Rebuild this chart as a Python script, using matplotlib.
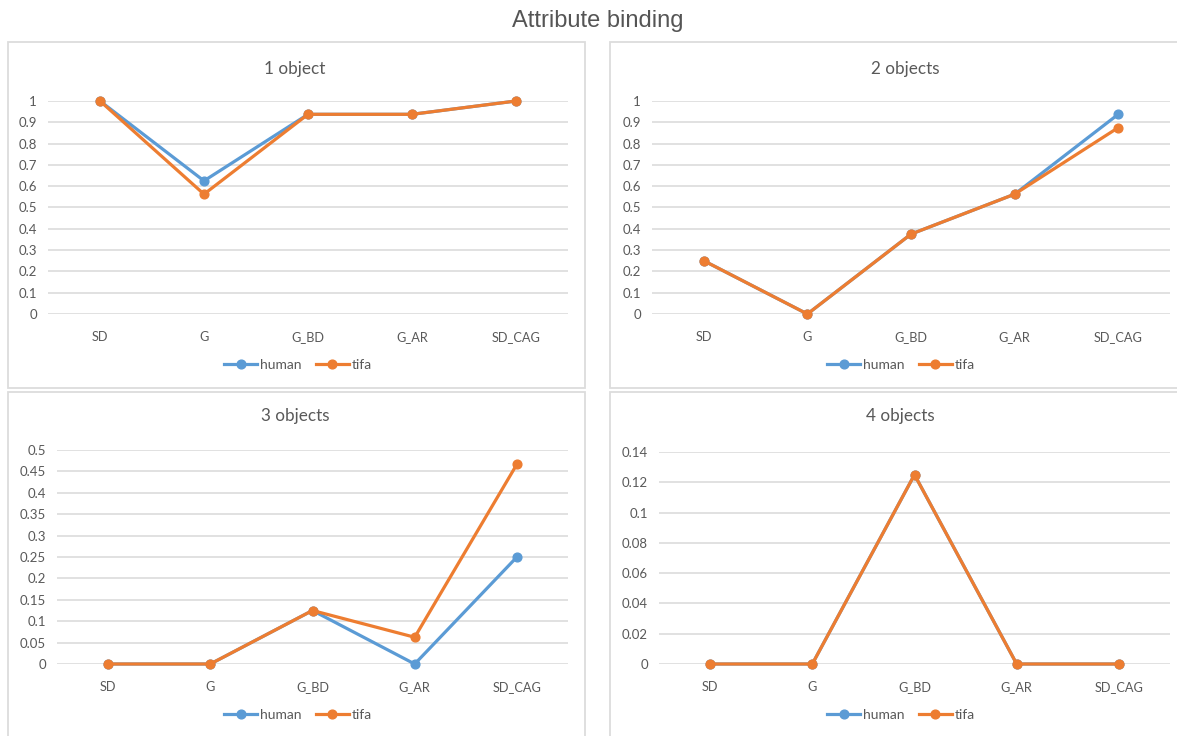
import matplotlib
matplotlib.use("Agg")
import matplotlib.pyplot as plt
from matplotlib.patches import Rectangle
import numpy as np

categories = ["SD", "G", "G_BD", "G_AR", "SD_CAG"]
panel_titles = ["1 object", "2 objects", "3 objects", "4 objects"]
human_1 = [1.0, 0.625, 0.9375, 0.9375, 1.0]
tifa_1 = [1.0, 0.5625, 0.9375, 0.9375, 1.0]
human_2 = [0.25, 0.0, 0.375, 0.5625, 0.9375]
tifa_2 = [0.25, 0.0, 0.375, 0.5625, 0.875]
human_3 = [0.0, 0.0, 0.125, 0.0, 0.25]
tifa_3 = [0.0, 0.0, 0.125, 0.0625, 0.4667]
human_4 = [0.0, 0.0, 0.125, 0.0, 0.0]
tifa_4 = [0.0, 0.0, 0.125, 0.0, 0.0]
yticks_1 = [0, 0.1, 0.2, 0.3, 0.4, 0.5, 0.6, 0.7, 0.8, 0.9, 1]
yticks_2 = [0, 0.1, 0.2, 0.3, 0.4, 0.5, 0.6, 0.7, 0.8, 0.9, 1]
yticks_3 = [0, 0.05, 0.1, 0.15, 0.2, 0.25, 0.3, 0.35, 0.4, 0.45, 0.5]
yticks_4 = [0, 0.02, 0.04, 0.06, 0.08, 0.1, 0.12, 0.14]

W, H = 1177, 736
fig = plt.figure(figsize=(W / 100, H / 100), dpi=100)
fig.patch.set_facecolor("white")

C_HUMAN = "#5B9BD5"
C_TIFA = "#ED7D31"
TXT = "#595959"
GRID = "#d9d9d9"
FONT = ["Lato", "DejaVu Sans"]


def rect(x0, y0, x1, y1):
    return [x0 / W, 1 - y1 / H, (x1 - x0) / W, (y1 - y0) / H]


# panel borders
borders = [(8, 42, 585, 388), (610, 42, 1190, 388), (8, 392, 585, 745), (610, 392, 1190, 745)]
for (x0, y0, x1, y1) in borders:
    fig.add_artist(Rectangle((x0 / W, 1 - y1 / H), (x1 - x0) / W, (y1 - y0) / H,
                             transform=fig.transFigure, facecolor="white",
                             edgecolor="#dcdcdc", lw=1.3, zorder=0))

panels = [
    (human_1, tifa_1, yticks_1, (48, 101, 568, 314), 295, 69, 298, 365),
    (human_2, tifa_2, yticks_2, (652, 101, 1170, 314), 905, 69, 901, 365),
    (human_3, tifa_3, yticks_3, (57, 450, 568, 664), 295, 416, 298, 715),
    (human_4, tifa_4, yticks_4, (659, 452, 1170, 664), 900, 416, 901, 715),
]

for i, (hum, tif, yt, box, tx, ty, lx, ly) in enumerate(panels):
    ax = fig.add_axes(rect(*box))
    ax.set_facecolor("none")
    x = np.arange(len(categories))
    ax.plot(x, hum, color=C_HUMAN, lw=2.3, marker="o", ms=6.3, label="human", clip_on=False, zorder=3)
    ax.plot(x, tif, color=C_TIFA, lw=2.3, marker="o", ms=6.3, label="tifa", clip_on=False, zorder=4)
    ax.set_xlim(-0.5, len(categories) - 0.5)
    ax.set_ylim(yt[0], yt[-1])
    ax.set_yticks(yt)
    ax.set_yticklabels([f"{v:g}" for v in yt], fontsize=9.5, color=TXT, family=FONT)
    ax.set_xticks(x)
    ax.set_xticklabels(categories, fontsize=9.2, color=TXT, family=FONT)
    ax.tick_params(axis="both", length=0)
    ax.tick_params(axis="y", pad=8)
    ax.tick_params(axis="x", pad=12)
    for s in ax.spines.values():
        s.set_visible(False)
    ax.grid(axis="y", color=GRID, lw=1.1)
    ax.grid(axis="x", visible=False)
    ax.set_axisbelow(True)
    fig.text(tx / W, 1 - ty / H, panel_titles[i], ha="center", va="center",
             fontsize=12.3, color=TXT, family=FONT)
    leg = ax.legend(loc="center", bbox_to_anchor=(lx / W, 1 - ly / H),
                    bbox_transform=fig.transFigure, ncol=2, frameon=False,
                    handlelength=2.4, handletextpad=0.2,
                    columnspacing=1.0, prop={"family": FONT, "size": 10})
    for t in leg.get_texts():
        t.set_color(TXT)

fig.text(598 / W, 1 - 21 / H, "Attribute binding", ha="center", va="center",
         fontsize=17, color="#555555", family=["Liberation Sans", "DejaVu Sans"])

fig.savefig("out.png", dpi=100, facecolor="white")
